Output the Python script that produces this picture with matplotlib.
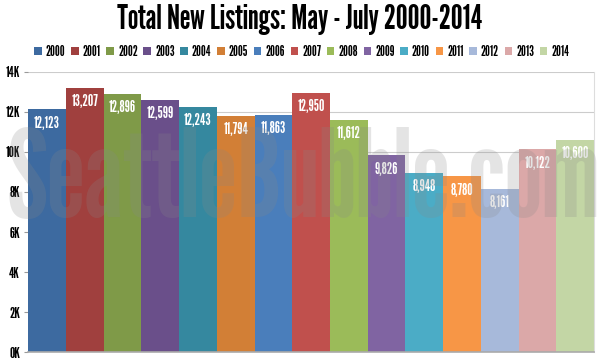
import matplotlib
matplotlib.use("Agg")
import matplotlib.pyplot as plt
from matplotlib.ticker import FuncFormatter

# data
years = ["2000", "2001", "2002", "2003", "2004", "2005", "2006", "2007",
         "2008", "2009", "2010", "2011", "2012", "2013", "2014"]
listings = [12123, 13207, 12896, 12599, 12243, 11794, 11863, 12950,
            11612, 9826, 8948, 8780, 8161, 10122, 10600]
colors = ["#3d6aa0", "#a0403e", "#7f9a48", "#6a4f8a", "#35889f", "#d27f36",
          "#4a7ebb", "#c0504d", "#9bbb59", "#8064a2", "#4bacc6", "#f79646",
          "#a7b9da", "#dba8a8", "#c3d6a5"]
y_ticks = [0, 2000, 4000, 6000, 8000, 10000, 12000, 14000]

plt.rcParams["font.family"] = ["League Gothic", "DejaVu Sans"]

fig = plt.figure(figsize=(6, 3.63), dpi=100)
ax = fig.add_axes([0.047, 0.030, 0.943, 0.772])

n = len(years)
for i, (yr, v, c) in enumerate(zip(years, listings, colors)):
    ax.bar(i, v, width=1.0, color=c, label=yr, zorder=2)
    ax.annotate(f"{v:,}", (i, v), xytext=(0, -4.5), textcoords="offset points",
                ha="center", va="top", color="white", fontsize=11, zorder=4)

ax.set_xlim(-0.5, n - 0.5)
ax.set_ylim(0, 14000)
ax.set_yticks(y_ticks)
ax.yaxis.set_major_formatter(FuncFormatter(lambda v, p: f"{int(v/1000)}K"))
ax.set_xticks([])
ax.grid(axis="y", color="#cccccc", linewidth=0.8, zorder=0)
ax.tick_params(axis="y", length=3, color="#999999", labelsize=10.5, pad=3)
for s in ["top", "left"]:
    ax.spines[s].set_visible(False)
ax.spines["right"].set_color("#dddddd")
ax.spines["bottom"].set_color("#aaaaaa")
ax.spines["bottom"].set_linewidth(1.2)

# watermark
fig.text(0.505, 0.495, "SeattleBubble.com", ha="center", va="center",
         fontsize=88, color="#888888", alpha=0.22, zorder=5)

fig.text(0.5, 0.945, "Total New Listings: May - July 2000-2014", ha="center",
         va="center", fontsize=24)

handles, labels = ax.get_legend_handles_labels()
fig.legend(handles, labels, loc="center", bbox_to_anchor=(0.503, 0.857),
           ncol=n, frameon=False, fontsize=9.8, handlelength=0.55,
           handleheight=0.55, handletextpad=0.3, columnspacing=0.42,
           borderaxespad=0)

fig.savefig("out.png", dpi=100)
